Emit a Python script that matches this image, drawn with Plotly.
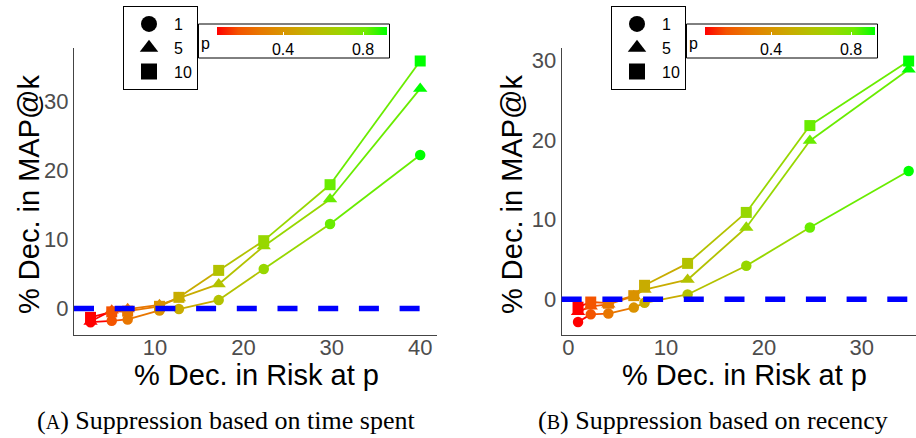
import plotly.graph_objects as go
from plotly.colors import sample_colorscale

# ---------------- data ----------------
p_vals = [0.07, 0.18, 0.28, 0.39, 0.50, 0.60, 0.71, 0.82, 0.92]

# Panel A: suppression based on time spent
x_a = [2.7, 5.1, 6.9, 10.5, 12.7, 17.2, 22.3, 29.8, 40.0]
k1_a = [-2.0, -1.8, -1.6, -0.3, -0.1, 1.2, 5.7, 12.2, 22.2]
k5_a = [-1.9, -0.3, -0.1, 0.5, 1.5, 3.5, 9.0, 15.8, 31.8]
k10_a = [-1.3, -0.5, -0.4, 0.3, 1.6, 5.5, 9.8, 17.9, 35.8]

# Panel B: suppression based on recency
x_b = [1.0, 2.3, 4.1, 6.7, 7.8, 12.2, 18.2, 24.7, 34.8]
k1_b = [-2.85, -1.9, -1.8, -1.05, -0.45, 0.6, 4.2, 9.0, 16.1]
k5_b = [-1.6, -0.9, -0.65, 0.4, 1.2, 2.45, 9.0, 19.9, 28.85]
k10_b = [-1.0, -0.35, -0.5, 0.45, 1.75, 4.5, 10.9, 21.8, 29.9]

k_labels = ["1", "5", "10"]
symbols = ["circle", "triangle-up", "square"]
marker_sizes = [10.5, 12.5, 11]

x_ticks_a = [10, 20, 30, 40]
x_ticks_b = [0, 10, 20, 30]
y_ticks = [0, 10, 20, 30]
cbar_ticks = [0.4, 0.8]

captions = ["(<span style='font-size:20px'>A</span>) Suppression based on time spent",
            "(<span style='font-size:20px'>B</span>) Suppression based on recency"]
x_title = "% Dec. in Risk at p"
y_title = "% Dec. in MAP@k"

# ---------------- styling ----------------
W, H = 916, 438
def px(x):
    return x / W
def py(y):
    return 1 - y / H

CMIN, CMAX = 0.07, 0.92
cscale = [[0.0, "#FF0000"], [0.125, "#F45300"], [0.25, "#E87700"], [0.375, "#DA9200"],
          [0.5, "#C9AB00"], [0.625, "#B3C200"], [0.75, "#98D700"], [0.875, "#70EB00"],
          [1.0, "#00FF00"]]

def col(p):
    t = (p - CMIN) / (CMAX - CMIN)
    t = min(max(t, 0), 1)
    return sample_colorscale(cscale, [t])[0]

SANS = "Liberation Sans, Arial, sans-serif"
fig = go.Figure()

panels = [
    dict(x=x_a, ys=[k1_a, k5_a, k10_a], xa="x", ya="y", ca="coloraxis", lg="legend"),
    dict(x=x_b, ys=[k1_b, k5_b, k10_b], xa="x2", ya="y2", ca="coloraxis2", lg="legend2"),
]

# lines (segments coloured by start point)
for pn in panels:
    for ys in pn["ys"]:
        for i in range(len(pn["x"]) - 1):
            fig.add_trace(go.Scatter(
                x=[pn["x"][i], pn["x"][i + 1]], y=[ys[i], ys[i + 1]],
                mode="lines", line=dict(color=col(p_vals[i]), width=1.8),
                showlegend=False, hoverinfo="skip", xaxis=pn["xa"], yaxis=pn["ya"],
                cliponaxis=False))

# markers
for pn in panels:
    for ys, sym, ms in zip(pn["ys"], symbols, marker_sizes):
        fig.add_trace(go.Scatter(
            x=pn["x"], y=ys, mode="markers",
            marker=dict(symbol=sym, size=ms, color=p_vals, coloraxis=pn["ca"], line=dict(width=0)),
            showlegend=False, xaxis=pn["xa"], yaxis=pn["ya"], cliponaxis=False))

# legend entries
for pn in panels:
    for lab, sym in zip(k_labels, symbols):
        fig.add_trace(go.Scatter(
            x=[None], y=[None], mode="markers", name=lab,
            marker=dict(symbol=sym, size=16, color="black"),
            legend=pn["lg"], xaxis=pn["xa"], yaxis=pn["ya"]))

axis_common = dict(showline=True, linecolor="#444444", linewidth=1, showgrid=False,
                   zeroline=False, ticks="", tickfont=dict(family=SANS, size=22, color="#4D4D4D"))

ydom = [py(335), py(48)]
fig.update_layout(
    width=W, height=H, margin=dict(l=0, r=0, t=0, b=0),
    paper_bgcolor="white", plot_bgcolor="white",
    xaxis=dict(domain=[px(74), px(437)], range=[0.83, 41.9], tickvals=x_ticks_a, anchor="y",
               ticklabelstandoff=-7, **axis_common),
    yaxis=dict(domain=ydom, range=[-3.85, 37.68], tickvals=y_ticks, anchor="x", **axis_common),
    xaxis2=dict(domain=[px(561.7), 1.0], range=[-0.67, 35.55], tickvals=x_ticks_b, anchor="y2",
                ticklabelstandoff=-7, **axis_common),
    yaxis2=dict(domain=ydom, range=[-4.49, 31.54], tickvals=y_ticks, anchor="x2", **axis_common),
    showlegend=True,
)

for lg, off in [("legend", 0), ("legend2", 488)]:
    fig.update_layout({lg: dict(
        x=px(123 + off), y=py(6), xanchor="left", yanchor="top",
        bgcolor="white", bordercolor="black", borderwidth=1,
        font=dict(family=SANS, size=16, color="black"),
        itemwidth=40, tracegroupgap=0, itemclick=False, itemdoubleclick=False)})

for ca, off in [("coloraxis", 0), ("coloraxis2", 488)]:
    fig.update_layout({ca: dict(
        colorscale=cscale, cmin=CMIN, cmax=CMAX,
        colorbar=dict(
            orientation="h", x=px(217 + off), xanchor="left", y=py(27), yanchor="top",
            len=170, lenmode="pixels", thickness=8, thicknessmode="pixels",
            xpad=0, ypad=0, outlinewidth=0, borderwidth=0,
            tickvals=cbar_ticks, ticktext=[str(v) for v in cbar_ticks],
            ticks="inside", ticklen=3, tickcolor="white", tickwidth=1,
            tickfont=dict(family=SANS, size=16, color="black"),
            title=dict(text="")))})

def ann(x, y, text, size, family=SANS, angle=0):
    fig.add_annotation(x=px(x), y=py(y), xref="paper", yref="paper", text=text,
                       xanchor="center", yanchor="middle", textangle=angle,
                       showarrow=False, font=dict(family=family, size=size, color="black"))

# colorbar boxes, "p" labels, dashed zero lines
for off in [0, 488]:
    fig.add_shape(type="rect", xref="paper", yref="paper",
                  x0=px(198.5 + off), x1=px(389.5 + off), y0=py(58), y1=py(24),
                  line=dict(color="black", width=1), fillcolor="white", layer="below")
    ann(205 + off, 43, "p", 16)

for xa, ya in [("x", "y"), ("x2", "y2")]:
    fig.add_shape(type="line", xref=f"{xa} domain", yref=ya, x0=0, x1=1, y0=0, y1=0,
                  line=dict(color="#0000FF", width=5.5, dash="20px,20.7px"), layer="above")

# axis titles
for cx in [29, 512]:
    ann(cx, 195, y_title, 29, angle=-90)
for cx in [256, 744]:
    ann(cx, 375, x_title, 29)

# captions
for cx, txt in zip([226, 713], captions):
    ann(cx, 420, txt, 26, family="Liberation Serif, serif")

fig.write_html("out.html")
